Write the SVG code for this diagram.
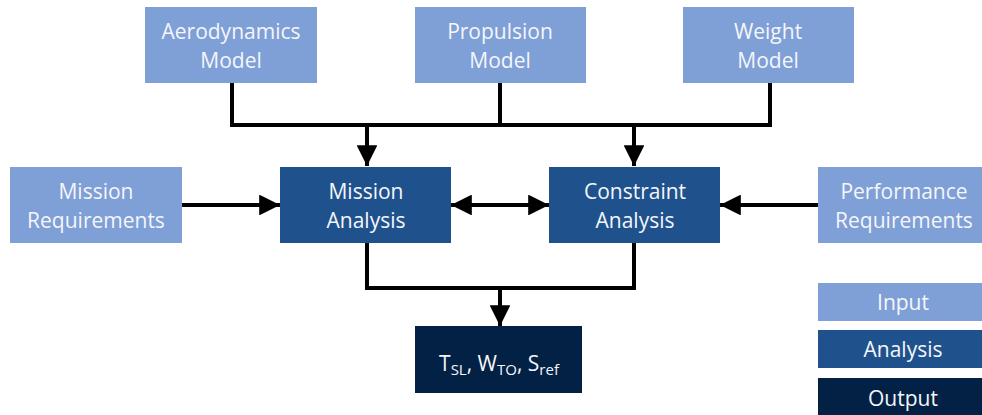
<svg xmlns="http://www.w3.org/2000/svg" width="982" height="415" viewBox="0 0 982 415">
<defs>
<style>
.in{fill:#7f9fd7}
.an{fill:#1f528d}
.out{fill:#032145}
text{font-family:"Open Sans","Liberation Sans",sans-serif;font-size:21px;fill:#f4f6fa;text-anchor:middle}
.ln{fill:none;stroke:#000;stroke-width:4}
</style>
<marker id="ah" viewBox="0 0 10 10" refX="10" refY="5" markerWidth="5.2" markerHeight="5.2" markerUnits="strokeWidth" orient="auto-start-reverse">
<path d="M0,0 L10,5 L0,10 Z" fill="#000"/>
</marker>
</defs>
<rect width="982" height="415" fill="#fff"/>
<g id="connectors">
<path class="ln" d="M232,83 V125 H770 V83"/>
<path class="ln" d="M500,83 V125"/>
<path class="ln" d="M367,125 V166" marker-end="url(#ah)"/>
<path class="ln" d="M634,125 V166" marker-end="url(#ah)"/>
<path class="ln" d="M182,205 H280" marker-end="url(#ah)"/>
<path class="ln" d="M451,205 H549" marker-start="url(#ah)" marker-end="url(#ah)"/>
<path class="ln" d="M818,205 H720" marker-end="url(#ah)"/>
<path class="ln" d="M367,243 V288 H634 V243"/>
<path class="ln" d="M500,288 V326" marker-end="url(#ah)"/>
</g>
<g id="aero"><rect class="in" x="145" y="7" width="172" height="76"/><text x="231" y="39">Aerodynamics</text><text x="231" y="68">Model</text></g>
<g id="prop"><rect class="in" x="415" y="7" width="171" height="76"/><text x="500" y="39">Propulsion</text><text x="500" y="68">Model</text></g>
<g id="weight"><rect class="in" x="683" y="7" width="171" height="76"/><text x="768" y="39">Weight</text><text x="768" y="68">Model</text></g>
<g id="missionreq"><rect class="in" x="10" y="167" width="172" height="76"/><text x="96" y="199">Mission</text><text x="96" y="228">Requirements</text></g>
<g id="missionan"><rect class="an" x="280" y="167" width="171" height="76"/><text x="366" y="199">Mission</text><text x="366" y="228">Analysis</text></g>
<g id="constraint"><rect class="an" x="549" y="167" width="171" height="76"/><text x="635" y="199">Constraint</text><text x="635" y="228">Analysis</text></g>
<g id="perfreq"><rect class="in" x="818" y="167" width="164" height="76"/><text x="904" y="199">Performance</text><text x="904" y="228">Requirements</text></g>
<g id="output"><rect class="out" x="415" y="326" width="167" height="67"/><text x="499" y="371" font-size="22">T<tspan font-size="15" dy="4">SL</tspan><tspan dy="-4">, W</tspan><tspan font-size="15" dy="4">TO</tspan><tspan dy="-4">, S</tspan><tspan font-size="15" dy="4">ref</tspan></text></g>
<g id="legend">
<rect class="in" x="818" y="283" width="164" height="38"/><text x="903" y="310">Input</text>
<rect class="an" x="818" y="330" width="164" height="38"/><text x="903" y="357">Analysis</text>
<rect class="out" x="818" y="378" width="164" height="37"/><text x="903" y="406">Output</text>
</g>
</svg>
